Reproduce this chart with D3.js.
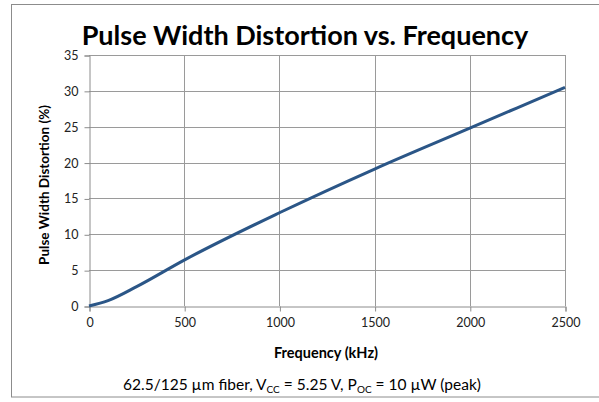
<!DOCTYPE html>
<html><head><meta charset="utf-8">
<script src="https://cdn.jsdelivr.net/npm/d3@7"></script>
<style>body{margin:0;background:#fff}svg{display:block}</style>
</head><body>
<svg id="c" width="599" height="402"></svg>
<script>
const frequency = [0, 100, 250, 500, 1000, 1500, 2000, 2500];
const distortion = [0, 0.75, 2.7, 6.4, 13.0, 19.1, 24.8, 30.5];
const xTicks = [0, 500, 1000, 1500, 2000, 2500];
const yTicks = [0, 5, 10, 15, 20, 25, 30, 35];

const svg = d3.select("#c");
const font = "Lato, Open Sans, Liberation Sans, sans-serif";
const m = {l: 89, r: 565, t: 55, b: 306};
const x = d3.scaleLinear().domain([0, 2500]).range([m.l, m.r]);
const y = d3.scaleLinear().domain([0, 35]).range([m.b, m.t]);

svg.append("rect").attr("x", 11.5).attr("y", 4.5).attr("width", 600).attr("height", 392.5)
  .attr("fill", "#fff").attr("stroke", "#8c8c8c");

// gridlines
svg.append("g").selectAll("line").data(yTicks.slice(1)).join("line")
  .attr("x1", m.l).attr("x2", m.r).attr("y1", d => Math.round(y(d)) + 0.5).attr("y2", d => Math.round(y(d)) + 0.5)
  .attr("stroke", "#9a9a9a");
svg.append("g").selectAll("line").data(xTicks.slice(1)).join("line")
  .attr("y1", m.t).attr("y2", m.b).attr("x1", d => Math.round(x(d)) + 0.5).attr("x2", d => Math.round(x(d)) + 0.5)
  .attr("stroke", "#9a9a9a");

const xa = svg.append("g").attr("transform", `translate(0.5,${Math.round(m.b) + 0.5})`)
  .call(d3.axisBottom(x).tickValues(xTicks).tickFormat(d3.format("d")).tickSize(5).tickPadding(7));
const ya = svg.append("g").attr("transform", `translate(${m.l + 0.5},0.5)`)
  .call(d3.axisLeft(y).tickValues(yTicks).tickFormat(d3.format("d")).tickSize(5).tickPadding(6));
[xa, ya].forEach(a => {
  a.select(".domain").attr("stroke", "#8c8c8c");
  a.selectAll(".tick line").attr("stroke", "#8c8c8c");
  a.selectAll("text").attr("font-family", font).attr("font-size", 12.5).attr("fill", "#222");
});

svg.append("path").datum(frequency.map((f, i) => [f, distortion[i]]))
  .attr("fill", "none").attr("stroke", "#2b5687").attr("stroke-width", 3)
  .attr("stroke-linejoin", "round")
  .attr("d", d3.line().x(d => x(d[0])).y(d => y(d[1])).curve(d3.curveMonotoneX));

svg.append("text").attr("x", 305).attr("y", 45).attr("text-anchor", "middle")
  .attr("font-family", font).attr("font-weight", "bold").attr("font-size", 27).attr("fill", "#000")
  .text("Pulse Width Distortion vs. Frequency");

svg.append("text").attr("transform", "translate(49,185) rotate(-90)").attr("text-anchor", "middle")
  .attr("font-family", font).attr("font-weight", "bold").attr("font-size", 13.5).attr("fill", "#000")
  .text("Pulse Width Distortion (%)");

svg.append("text").attr("x", 326).attr("y", 358).attr("text-anchor", "middle")
  .attr("font-family", font).attr("font-weight", "bold").attr("font-size", 14.5).attr("fill", "#000")
  .text("Frequency (kHz)");

const ft = svg.append("text").attr("x", 302).attr("y", 390).attr("text-anchor", "middle")
  .attr("font-family", font).attr("font-size", 15.5).attr("fill", "#000");
ft.append("tspan").text("62.5/125 \u00b5m fiber, V");
ft.append("tspan").attr("font-size", 10).attr("dy", 3).text("CC");
ft.append("tspan").attr("dy", -3).text(" = 5.25 V, P");
ft.append("tspan").attr("font-size", 10).attr("dy", 3).text("OC");
ft.append("tspan").attr("dy", -3).text(" = 10 \u00b5W (peak)");
</script>
</body></html>
